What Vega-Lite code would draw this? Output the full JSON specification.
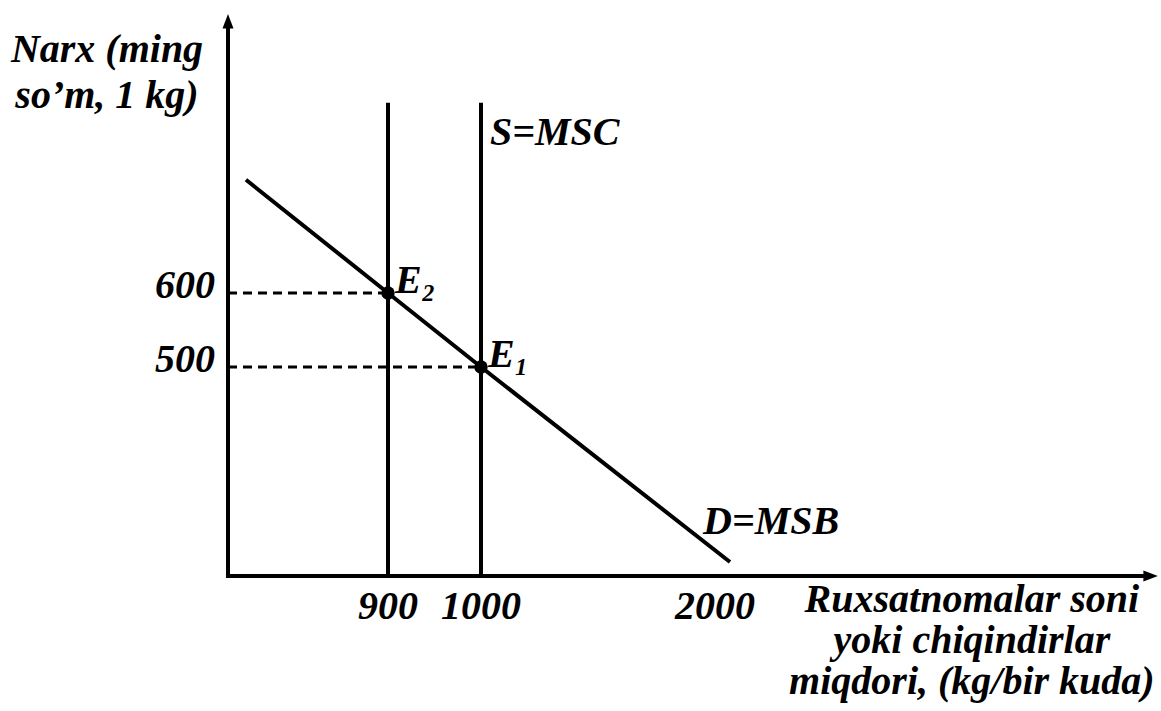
{
  "$schema": "https://vega.github.io/schema/vega-lite/v6.json",
  "width": 1161,
  "height": 711,
  "autosize": {"type": "none"},
  "padding": 0,
  "background": "white",
  "config": {
    "view": {"stroke": null},
    "text": {"font": "Liberation Serif", "fontSize": 40, "fontStyle": "italic", "fontWeight": "bold", "color": "black"}
  },
  "datasets": {
    "axes": [
      {"q": 0, "p": 0, "q2": 3850, "p2": 0},
      {"q": 0, "p": 0, "q2": 0, "p2": 963.5}
    ],
    "supply": [
      {"q": 900, "p": 0, "q2": 900, "p2": 857},
      {"q": 1000, "p": 0, "q2": 1000, "p2": 857}
    ],
    "guides": [
      {"q": 0, "p": 600, "q2": 900, "p2": 600},
      {"q": 0, "p": 500, "q2": 1000, "p2": 500}
    ],
    "demand": [
      {"q": 101, "p": 753},
      {"q": 900, "p": 600},
      {"q": 1000, "p": 500},
      {"q": 2064, "p": 33.5}
    ],
    "equilibria": [
      {"q": 900, "p": 600, "label": "E₂"},
      {"q": 1000, "p": 500, "label": "E₁"}
    ],
    "xticks": [
      {"q": 900, "p": 0, "label": "900"},
      {"q": 1000, "p": 0, "label": "1000"},
      {"q": 2000, "p": 0, "label": "2000"}
    ],
    "yticks": [
      {"q": 0, "p": 600, "label": "600"},
      {"q": 0, "p": 500, "label": "500"}
    ],
    "xarrow": [{"q": 3850, "p": 0, "label": "Ruxsatnomalar soni\nyoki chiqindirlar\nmiqdori, (kg/bir kuda)"}],
    "yarrow": [{"q": 0, "p": 963.5, "label": "Narx (ming\nso’m, 1 kg)"}],
    "slabel": [{"q": 1000, "p": 800, "label": "S=MSC"}],
    "dlabel": [{"q": 2000, "p": 100, "label": "D=MSB"}]
  },
  "encoding": {
    "x": {"field": "q", "type": "quantitative", "axis": null,
          "scale": {"domain": [0, 900, 1000, 2000], "range": [228, 388, 481, 715], "nice": false, "zero": false}},
    "y": {"field": "p", "type": "quantitative", "axis": null,
          "scale": {"domain": [0, 500, 600], "range": [576, 367, 293], "nice": false, "zero": false}}
  },
  "layer": [
    {
      "data": {"name": "guides"},
      "mark": {"type": "rule", "strokeWidth": 3, "strokeDash": [9, 6], "color": "black"},
      "encoding": {"x2": {"field": "q2"}, "y2": {"field": "p2"}}
    },
    {
      "data": {"name": "axes"},
      "mark": {"type": "rule", "strokeWidth": 4, "strokeCap": "square", "color": "black"},
      "encoding": {"x2": {"field": "q2"}, "y2": {"field": "p2"}}
    },
    {
      "data": {"name": "supply"},
      "mark": {"type": "rule", "strokeWidth": 4, "color": "black"},
      "encoding": {"x2": {"field": "q2"}, "y2": {"field": "p2"}}
    },
    {
      "data": {"name": "demand"},
      "mark": {"type": "line", "strokeWidth": 4, "color": "black"},
      "encoding": {"order": {"field": "q", "type": "quantitative"}}
    },
    {
      "data": {"name": "equilibria"},
      "mark": {"type": "point", "filled": true, "shape": "circle", "size": 180, "color": "black", "opacity": 1}
    },
    {
      "data": {"name": "xarrow"},
      "mark": {"type": "point", "filled": true, "shape": "M1,0L-0.45,-0.55L-0.45,0.55Z", "size": 400, "color": "black", "opacity": 1}
    },
    {
      "data": {"name": "yarrow"},
      "mark": {"type": "point", "filled": true, "shape": "M0,-1L0.55,0.45L-0.55,0.45Z", "size": 400, "color": "black", "opacity": 1}
    },
    {
      "data": {"name": "equilibria"},
      "mark": {"type": "text", "align": "left", "baseline": "alphabetic", "dx": 7, "dy": 0},
      "encoding": {"text": {"field": "label"}}
    },
    {
      "data": {"name": "xticks"},
      "mark": {"type": "text", "align": "center", "baseline": "alphabetic", "dy": 43},
      "encoding": {"text": {"field": "label"}}
    },
    {
      "data": {"name": "yticks"},
      "mark": {"type": "text", "align": "right", "baseline": "alphabetic", "dx": -13, "dy": 5},
      "encoding": {"text": {"field": "label"}}
    },
    {
      "data": {"name": "slabel"},
      "mark": {"type": "text", "align": "left", "baseline": "alphabetic", "dx": 9, "dy": 0},
      "encoding": {"text": {"field": "label"}}
    },
    {
      "data": {"name": "dlabel"},
      "mark": {"type": "text", "align": "left", "baseline": "alphabetic", "dx": -12, "dy": 0},
      "encoding": {"text": {"field": "label"}}
    },
    {
      "data": {"name": "xarrow"},
      "mark": {"type": "text", "align": "center", "baseline": "alphabetic", "lineBreak": "\n", "lineHeight": 41, "dx": -176, "dy": 36},
      "encoding": {"text": {"field": "label"}}
    },
    {
      "data": {"name": "yarrow"},
      "mark": {"type": "text", "align": "center", "baseline": "alphabetic", "lineBreak": "\n", "lineHeight": 46, "dx": -121, "dy": 38},
      "encoding": {"text": {"field": "label"}}
    }
  ]
}
